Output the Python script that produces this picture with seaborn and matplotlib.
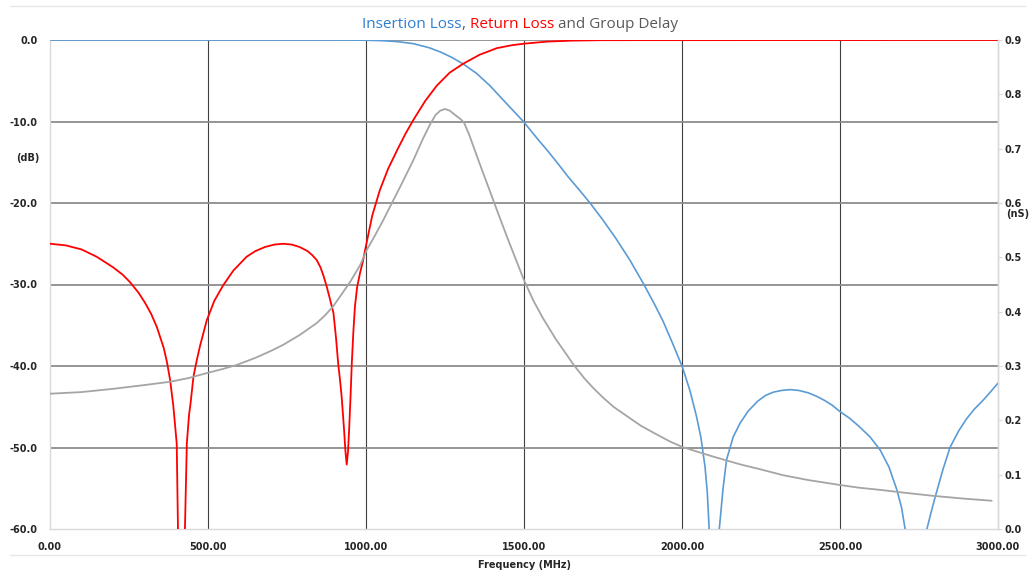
import matplotlib
matplotlib.use("Agg")
import matplotlib.pyplot as plt
from matplotlib.lines import Line2D
from matplotlib.ticker import FormatStrFormatter
import pandas as pd
import seaborn as sns

# ---------------- data ----------------
freq_il = [0, 900, 950, 1000, 1050, 1100, 1150, 1200, 1234, 1270, 1308, 1350, 1392, 1440,
           1498, 1540, 1577, 1610, 1640, 1675, 1709, 1750, 1790, 1835, 1878, 1910, 1940,
           1970, 2001, 2025, 2046, 2060, 2073, 2080, 2086, 2095, 2100, 2106, 2112, 2118,
           2130, 2141, 2162, 2184, 2210, 2240, 2265, 2290, 2315, 2342, 2370, 2400, 2425,
           2450, 2475, 2500, 2530, 2560, 2595, 2627, 2655, 2680, 2695, 2706, 2720, 2740,
           2762, 2775, 2788, 2801, 2825, 2848, 2875, 2900, 2925, 2953, 2978, 3000]
il_db = [0, 0, -0.01, -0.03, -0.08, -0.2, -0.45, -0.95, -1.45, -2.1, -2.95, -4.1, -5.6, -7.6,
         -10.0, -12.0, -13.7, -15.3, -16.8, -18.4, -20.0, -22.1, -24.3, -27.0, -29.9, -32.2,
         -34.5, -37.2, -40.1, -43.0, -46.2, -48.8, -52.4, -55.5, -60, -70, -85, -70, -63,
         -60, -55.0, -51.5, -48.7, -47.0, -45.5, -44.3, -43.6, -43.2, -43.0, -42.9, -43.0,
         -43.3, -43.7, -44.2, -44.8, -45.6, -46.4, -47.4, -48.7, -50.3, -52.4, -55.2, -57.4,
         -60, -68, -85, -66, -60, -58.0, -56.1, -52.8, -50.0, -48.0, -46.5, -45.3, -44.2,
         -43.1, -42.1]

freq_rl = [0, 50, 100, 148, 200, 230, 253, 280, 300, 320, 338, 360, 370, 380, 390, 401,
           405, 416, 427, 433, 440, 445, 454, 465, 475, 496, 520, 548, 580, 622, 650, 680,
           710, 738, 765, 790, 815, 830, 844, 856, 866, 876, 886, 897, 905, 912, 918, 923,
           930, 935, 939, 943, 947, 951, 955, 960, 965, 972, 981, 990, 997, 1020, 1044,
           1070, 1100, 1125, 1150, 1187, 1224, 1265, 1308, 1360, 1414, 1460, 1500, 1572,
           1650, 1750, 3000]
rl_db = [-25.0, -25.2, -25.7, -26.6, -27.9, -28.8, -29.7, -31.0, -32.2, -33.6, -35.2,
         -37.8, -39.5, -41.7, -44.8, -49.5, -60, -90, -60, -49.5, -46.0, -44.5, -41.3,
         -39.2, -37.5, -34.4, -32.0, -30.1, -28.3, -26.6, -25.9, -25.4, -25.1, -25.0,
         -25.1, -25.4, -25.9, -26.4, -27.0, -27.9, -29.0, -30.3, -31.8, -33.5, -36.5,
         -39.7, -41.8, -43.8, -47.5, -50.5, -52.1, -50.5, -47.5, -43.8, -39.7, -35.8,
         -32.7, -30.3, -28.6, -27.2, -25.8, -21.5, -18.4, -15.8, -13.4, -11.5, -9.8,
         -7.5, -5.6, -4.0, -2.9, -1.8, -1.0, -0.65, -0.45, -0.2, -0.08, -0.02, 0]

freq_gd = [0, 100, 200, 300, 380, 440, 496, 550, 591, 650, 700, 738, 790, 844, 870, 895,
           918, 950, 981, 1002, 1030, 1055, 1076, 1110, 1150, 1180, 1203, 1220, 1235, 1250,
           1265, 1282, 1300, 1310, 1325, 1340, 1365, 1392, 1420, 1450, 1475, 1500, 1530,
           1560, 1600, 1630, 1656, 1690, 1720, 1750, 1783, 1830, 1870, 1920, 1962, 2001,
           2050, 2100, 2184, 2247, 2320, 2400, 2500, 2560, 2627, 2700, 2795, 2890, 2980]
gd_ns = [0.249, 0.252, 0.258, 0.265, 0.271, 0.278, 0.287, 0.295, 0.302, 0.315, 0.328,
         0.339, 0.357, 0.379, 0.393, 0.409, 0.428, 0.455, 0.485, 0.513, 0.542, 0.569,
         0.593, 0.632, 0.679, 0.718, 0.745, 0.762, 0.770, 0.773, 0.770, 0.762, 0.754,
         0.748, 0.728, 0.704, 0.664, 0.622, 0.578, 0.532, 0.495, 0.458, 0.42, 0.388,
         0.35, 0.325, 0.303, 0.278, 0.259, 0.242, 0.225, 0.206, 0.19, 0.174, 0.161,
         0.151, 0.142, 0.133, 0.119, 0.11, 0.099, 0.09, 0.081, 0.076, 0.072, 0.067,
         0.061, 0.056, 0.052]

db_ticks = [0, -10, -20, -30, -40, -50, -60]
ns_ticks = [0.0, 0.1, 0.2, 0.3, 0.4, 0.5, 0.6, 0.7, 0.8, 0.9]
freq_ticks = [0, 500, 1000, 1500, 2000, 2500, 3000]

title_parts = ["Insertion Loss", ", ", "Return Loss", " and Group Delay"]

# ---------------- style ----------------
sns.set_style("white")
plt.rcParams['font.family'] = ['DejaVu Sans']
plt.rcParams['axes.unicode_minus'] = False

C_BLUE = "#5B9BD5"
C_RED = "#FF0000"
C_GRAY = "#A5A5A5"
C_SPINE = "#D9D9D9"

W, H = 1031, 579
fig = plt.figure(figsize=(W / 100, H / 100), dpi=100)
ax = fig.add_axes([50 / W, 1 - 529 / H, 948 / W, 489 / H])
ax2 = ax.twinx()

df_il = pd.DataFrame({"f": freq_il, "v": il_db})
df_rl = pd.DataFrame({"f": freq_rl, "v": rl_db})
df_gd = pd.DataFrame({"f": freq_gd, "v": gd_ns})

sns.lineplot(data=df_il, x="f", y="v", ax=ax, color=C_BLUE, linewidth=1.2,
             estimator=None, sort=False, zorder=3)
sns.lineplot(data=df_rl, x="f", y="v", ax=ax, color=C_RED, linewidth=1.3,
             estimator=None, sort=False, zorder=4)
sns.lineplot(data=df_gd, x="f", y="v", ax=ax2, color=C_GRAY, linewidth=1.3,
             estimator=None, sort=False, zorder=2)

ax.set_xlim(0, 3000)
ax.set_ylim(-60, 0)
ax2.set_ylim(0, 0.9)
ax.set_xticks(freq_ticks)
ax.set_yticks(db_ticks)
ax2.set_yticks(ns_ticks)
ax.xaxis.set_major_formatter(FormatStrFormatter("%.2f"))
ax.yaxis.set_major_formatter(FormatStrFormatter("%.1f"))
ax2.yaxis.set_major_formatter(FormatStrFormatter("%.1f"))
ax.set_xlabel("")
ax.set_ylabel("")
ax2.set_ylabel("")

for lab in ax.get_xticklabels() + ax.get_yticklabels() + ax2.get_yticklabels():
    lab.set_fontsize(7)
    lab.set_fontweight("bold")
    lab.set_color("#262626")

ax.tick_params(axis="x", length=0, pad=9)
ax.tick_params(axis="y", length=0, pad=9)
ax2.tick_params(axis="y", length=3, width=0.8, color=C_SPINE, pad=2)

# gridlines
ax.set_axisbelow(True)
ax.grid(axis="x", color="#404040", linewidth=0.8)
ax.grid(axis="y", color="#8C8C8C", linewidth=1.3)
for gl, v in zip(ax.xaxis.get_gridlines(), freq_ticks):
    if v in (0, 3000):
        gl.set_visible(False)
for gl, v in zip(ax.yaxis.get_gridlines(), db_ticks):
    if v == -60:
        gl.set_visible(False)
ax2.grid(False)

for a in (ax, ax2):
    for s in a.spines.values():
        s.set_color(C_SPINE)
        s.set_linewidth(1.0)
    a.spines["top"].set_visible(False)
ax2.spines["left"].set_visible(False)
ax2.spines["bottom"].set_visible(False)

# unit labels
fig.text(28 / W, 1 - 158 / H, "(dB)", ha="center", va="center", fontsize=7,
         fontweight="bold", color="#262626")
fig.text(1018 / W, 1 - 214 / H, "(nS)", ha="center", va="center", fontsize=7,
         fontweight="bold", color="#262626")
fig.text(524 / W, 1 - 565 / H, "Frequency (MHz)", ha="center", va="center",
         fontsize=7, fontweight="bold", color="#262626")

# frame lines
fig.add_artist(Line2D([10 / W, 1025 / W], [1 - 555 / H, 1 - 555 / H],
                      color="#E6E6E6", linewidth=1.0, transform=fig.transFigure))
fig.add_artist(Line2D([10 / W, 1025 / W], [1 - 6 / H, 1 - 6 / H],
                      color="#E6E6E6", linewidth=1.0, transform=fig.transFigure))

# multicolor title
title_colors = ["#2E7FCF", "#595959", "#FF0000", "#595959"]
renderer = fig.canvas.get_renderer()
texts = []
for s, c in zip(title_parts, title_colors):
    t = fig.text(0, 1 - 24 / H, s, color=c, fontsize=11, family="Open Sans",
                 ha="left", va="center")
    texts.append(t)
widths = [t.get_window_extent(renderer).width for t in texts]
x = 520 - sum(widths) / 2
for t, w in zip(texts, widths):
    t.set_x(x / W)
    x += w

fig.savefig("out.png", dpi=100)
